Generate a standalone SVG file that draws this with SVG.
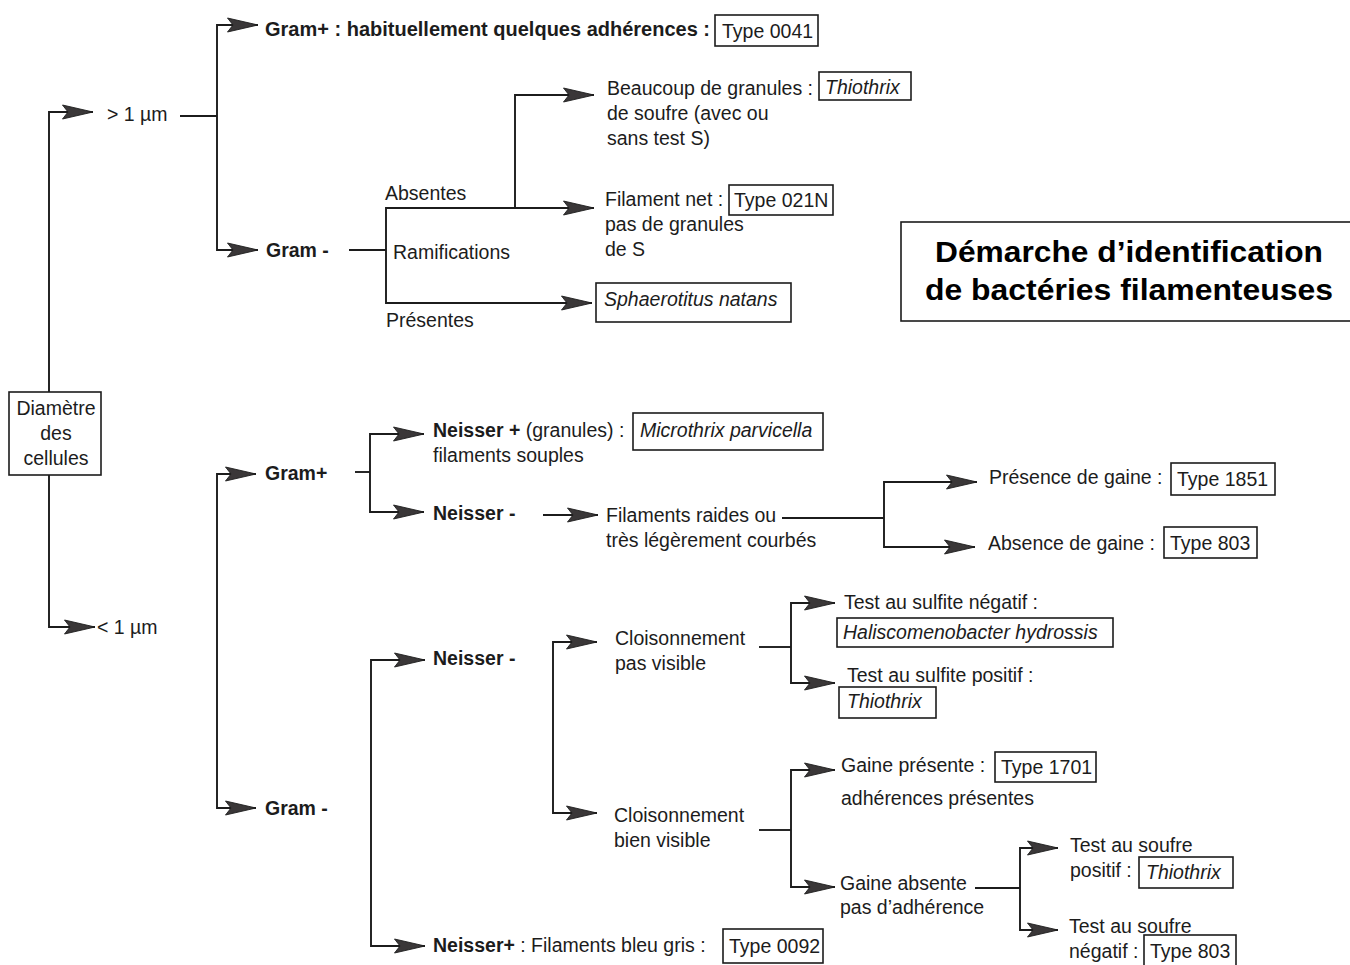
<svg xmlns="http://www.w3.org/2000/svg" width="1350" height="965" viewBox="0 0 1350 965">
<style>
text{font-family:"Liberation Sans",Arial,Helvetica,sans-serif;font-size:19.5px;fill:#1c1c1c}
.b{font-weight:bold}
.i{font-style:italic}
.box{fill:#fff;stroke:#1c1c1c;stroke-width:1.6}
.ln{fill:none;stroke:#1c1c1c;stroke-width:1.9;marker-end:url(#ah)}
.pl{fill:none;stroke:#1c1c1c;stroke-width:1.9}
.title{font-size:30px;font-weight:bold;fill:#000}
</style>
<defs>
<marker id="ah" markerUnits="userSpaceOnUse" markerWidth="34" markerHeight="18" viewBox="0 0 34 18" refX="31" refY="9" orient="auto">
<path d="M0.5,2 L31,9 L0.5,16 L6,9 Z" fill="#3a3738" stroke="#1e1e1e" stroke-width="0.9" stroke-linejoin="round"/>
</marker>
</defs>
<rect width="1350" height="965" fill="#fff"/>

<g id="connectors">
<path class="ln" d="M49,392 V112 H93"/>
<path class="ln" d="M49,475 V627 H95"/>
<path class="pl" d="M180,116 H217"/>
<path class="ln" d="M217,116 V25 H258"/>
<path class="ln" d="M217,116 V250 H258"/>
<path class="pl" d="M349,250 H386"/>
<path class="ln" d="M386,250 V208 H594"/>
<path class="ln" d="M386,250 V303 H592"/>
<path class="ln" d="M515,208 V95 H594"/>
<path class="ln" d="M217,640 V474 H256"/>
<path class="ln" d="M217,640 V808 H256"/>
<path class="pl" d="M355,472 H370"/>
<path class="ln" d="M370,472 V434 H424"/>
<path class="ln" d="M370,472 V512 H424"/>
<path class="ln" d="M543,515 H598"/>
<path class="pl" d="M782,518 H884"/>
<path class="ln" d="M884,518 V482 H977"/>
<path class="ln" d="M884,518 V547 H975"/>
<path class="ln" d="M371,800 V660 H425"/>
<path class="ln" d="M371,800 V946 H425"/>
<path class="ln" d="M553,730 V642 H597"/>
<path class="ln" d="M553,730 V813 H597"/>
<path class="pl" d="M759,647 H791"/>
<path class="ln" d="M791,647 V603 H835"/>
<path class="ln" d="M791,647 V683 H835"/>
<path class="pl" d="M759,830 H791"/>
<path class="ln" d="M791,830 V770 H835"/>
<path class="ln" d="M791,830 V887 H835"/>
<path class="pl" d="M975,888 H1020"/>
<path class="ln" d="M1020,888 V848 H1058"/>
<path class="ln" d="M1020,888 V930 H1058"/>
</g>

<g id="title">
<rect class="box" x="901" y="222" width="470" height="99"/>
<text class="title" x="1129" y="262" text-anchor="middle" textLength="388" lengthAdjust="spacingAndGlyphs">Démarche d’identification</text>
<text class="title" x="1129" y="300" text-anchor="middle" textLength="408" lengthAdjust="spacingAndGlyphs">de bactéries filamenteuses</text>
</g>

<g id="n-diametre">
<rect class="box" x="9" y="392" width="92" height="83"/>
<text x="56" y="415" text-anchor="middle">Diamètre</text>
<text x="56" y="440" text-anchor="middle">des</text>
<text x="56" y="465" text-anchor="middle">cellules</text>
</g>

<g id="n-sup1"><text x="107" y="121">&gt; 1 µm</text></g>
<g id="n-inf1"><text x="97" y="634">&lt; 1 µm</text></g>

<g id="n-gramplus-top">
<text class="b" x="265" y="36" textLength="445" lengthAdjust="spacingAndGlyphs">Gram+ : habituellement quelques adhérences :</text>
<rect class="box" x="715" y="15" width="103" height="31"/>
<text x="722" y="38">Type 0041</text>
</g>

<g id="n-gramminus-top"><text class="b" x="266" y="257">Gram -</text></g>

<g id="n-ramif">
<text x="385" y="200">Absentes</text>
<text x="393" y="259">Ramifications</text>
<text x="386" y="327">Présentes</text>
</g>

<g id="n-beaucoup">
<text x="607" y="95">Beaucoup de granules :</text>
<text x="607" y="120">de soufre (avec ou</text>
<text x="607" y="145">sans test S)</text>
<rect class="box" x="819" y="72" width="92" height="28"/>
<text class="i" x="825" y="94">Thiothrix</text>
</g>

<g id="n-filament">
<text x="605" y="206">Filament net :</text>
<rect class="box" x="729" y="185" width="104" height="30"/>
<text x="734" y="207">Type 021N</text>
<text x="605" y="231">pas de granules</text>
<text x="605" y="256">de S</text>
</g>

<g id="n-sphaerotitus">
<rect class="box" x="596" y="283" width="195" height="39"/>
<text class="i" x="604" y="306">Sphaerotitus natans</text>
</g>

<g id="n-gramplus-low"><text class="b" x="265" y="480">Gram+</text></g>

<g id="n-neisserplus-1">
<text x="433" y="437"><tspan class="b">Neisser +</tspan> (granules) :</text>
<text x="433" y="462">filaments souples</text>
<rect class="box" x="633" y="413" width="190" height="37"/>
<text class="i" x="640" y="437">Microthrix parvicella</text>
</g>

<g id="n-neisserminus-1"><text class="b" x="433" y="520">Neisser -</text></g>

<g id="n-raides">
<text x="606" y="522">Filaments raides ou</text>
<text x="606" y="547">très légèrement courbés</text>
</g>

<g id="n-presence-gaine">
<text x="989" y="484">Présence de gaine :</text>
<rect class="box" x="1171" y="463" width="104" height="32"/>
<text x="1177" y="486">Type 1851</text>
</g>

<g id="n-absence-gaine">
<text x="988" y="550">Absence de gaine :</text>
<rect class="box" x="1164" y="527" width="93" height="31"/>
<text x="1170" y="550">Type 803</text>
</g>

<g id="n-gramminus-low"><text class="b" x="265" y="815">Gram -</text></g>

<g id="n-neisserminus-2"><text class="b" x="433" y="665">Neisser -</text></g>

<g id="n-cloison-pas">
<text x="615" y="645">Cloisonnement</text>
<text x="615" y="670">pas visible</text>
</g>

<g id="n-cloison-bien">
<text x="614" y="822">Cloisonnement</text>
<text x="614" y="847">bien visible</text>
</g>

<g id="n-sulfite-neg">
<text x="844" y="609">Test au sulfite négatif :</text>
<rect class="box" x="837" y="618" width="276" height="29"/>
<text class="i" x="843" y="639">Haliscomenobacter hydrossis</text>
</g>

<g id="n-sulfite-pos">
<text x="847" y="682">Test au sulfite positif :</text>
<rect class="box" x="839" y="687" width="97" height="31"/>
<text class="i" x="847" y="708">Thiothrix</text>
</g>

<g id="n-gaine-presente">
<text x="841" y="772">Gaine présente :</text>
<rect class="box" x="995" y="752" width="101" height="30"/>
<text x="1001" y="774">Type 1701</text>
<text x="841" y="805">adhérences présentes</text>
</g>

<g id="n-gaine-absente">
<text x="840" y="890">Gaine absente</text>
<text x="840" y="914">pas d’adhérence</text>
</g>

<g id="n-soufre-pos">
<text x="1070" y="852">Test au soufre</text>
<text x="1070" y="877">positif :</text>
<rect class="box" x="1139" y="857" width="94" height="31"/>
<text class="i" x="1146" y="879">Thiothrix</text>
</g>

<g id="n-soufre-neg">
<text x="1069" y="933">Test au soufre</text>
<text x="1069" y="958">négatif :</text>
<rect class="box" x="1144" y="935" width="92" height="31"/>
<text x="1150" y="958">Type 803</text>
</g>

<g id="n-neisserplus-2">
<text x="433" y="952"><tspan class="b">Neisser+</tspan> : Filaments bleu gris :</text>
<rect class="box" x="723" y="929" width="100" height="34"/>
<text x="729" y="953">Type 0092</text>
</g>
</svg>
